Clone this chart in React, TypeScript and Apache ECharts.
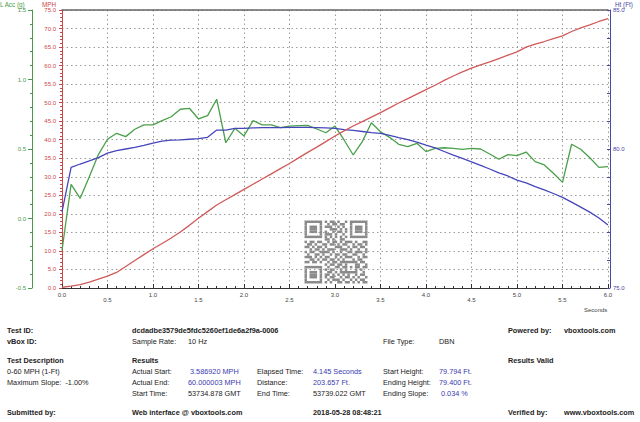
import React, { useEffect, useRef } from "react";
import * as echarts from "echarts";

// Sample times (10 Hz)
const times = [
  0.0, 0.1, 0.2, 0.3, 0.4, 0.5, 0.6, 0.7, 0.8, 0.9,
  1.0, 1.1, 1.2, 1.3, 1.4, 1.5, 1.6, 1.7, 1.8, 1.9,
  2.0, 2.1, 2.2, 2.3, 2.4, 2.5, 2.6, 2.7, 2.8, 2.9,
  3.0, 3.1, 3.2, 3.3, 3.4, 3.5, 3.6, 3.7, 3.8, 3.9,
  4.0, 4.1, 4.2, 4.3, 4.4, 4.5, 4.6, 4.7, 4.8, 4.9,
  5.0, 5.1, 5.2, 5.3, 5.4, 5.5, 5.6, 5.7, 5.8, 5.9, 6.0,
];

// Speed (MPH)
const speedMph = [
  0.2, 0.5, 0.9, 1.6, 2.4, 3.2, 4.2, 5.8, 7.4, 9.0,
  10.6, 12.0, 13.5, 15.1, 16.9, 18.8, 20.6, 22.4, 23.8, 25.2,
  26.6, 28.0, 29.4, 30.8, 32.2, 33.6, 35.1, 36.6, 38.0, 39.5,
  41.0, 42.4, 43.7, 44.9, 46.1, 47.3, 48.6, 49.9, 51.1, 52.3,
  53.5, 54.7, 56.0, 57.2, 58.3, 59.3, 60.2, 61.0, 61.9, 62.8,
  63.7, 65.0, 65.8, 66.5, 67.3, 68.0, 69.2, 70.2, 71.0, 71.9, 72.7,
];

// Longitudinal acceleration (g)
const accelG = [
  -0.23, 0.246, 0.145, 0.3, 0.46, 0.57, 0.613, 0.589, 0.642, 0.673,
  0.673, 0.704, 0.732, 0.786, 0.793, 0.716, 0.74, 0.858, 0.545, 0.649,
  0.594, 0.704, 0.673, 0.673, 0.653, 0.665, 0.668, 0.67, 0.644, 0.617,
  0.665, 0.565, 0.457, 0.553, 0.689, 0.624, 0.584, 0.534, 0.517, 0.541,
  0.481, 0.505, 0.509, 0.505, 0.498, 0.505, 0.5, 0.464, 0.426, 0.459,
  0.452, 0.478, 0.409, 0.385, 0.325, 0.26, 0.534, 0.498, 0.437, 0.368, 0.373,
];

// Height (Ft)
const heightFt = [
  77.74, 79.34, 79.46, 79.57, 79.69, 79.85, 79.94, 80.0, 80.06, 80.13,
  80.21, 80.28, 80.32, 80.33, 80.35, 80.37, 80.42, 80.68, 80.68, 80.74,
  80.74, 80.76, 80.77, 80.77, 80.77, 80.78, 80.78, 80.78, 80.77, 80.76,
  80.74, 80.7, 80.67, 80.63, 80.59, 80.56, 80.49, 80.41, 80.34, 80.25,
  80.14, 80.04, 79.91, 79.78, 79.66, 79.54, 79.41, 79.28, 79.14, 79.03,
  78.88, 78.78, 78.65, 78.53, 78.4, 78.26, 78.09, 77.91, 77.73, 77.52, 77.27,
];

// QR-style code pattern (decorative)
const qrRows = [
  "1111111010110100101111111",
  "1000001001011011001000001",
  "1011101011100101001011101",
  "1011101000111010101011101",
  "1011101010010110101011101",
  "1000001011101001001000001",
  "1111111010101010101111111",
  "0000000011010011000000000",
  "1011011001011010111010011",
  "0110100110110101100101101",
  "1101011010001110010110110",
  "0010110101110011101001001",
  "1011001111010010011011101",
  "0100110100101101100110010",
  "1110101011001010111001011",
  "0011010110110101000101100",
  "1101101001011011111110110",
  "0000000010110110100011001",
  "1111111001001101101011011",
  "1000001010110010100010100",
  "1011101001101011111110010",
  "1011101011010101010010110",
  "1011101010110010110101001",
  "1000001001011101001010110",
  "1111111010100110110101011",
];

const FONT = '"Liberation Sans", Arial, sans-serif';
const RED = "#c84848";
const GREEN = "#4a9a4a";
const BLUE = "#4848a8";
const GRID = "#9a9a9a";

function txt(x: number, y: number, text: string, opts: any = {}) {
  const bold = !!opts.bold;
  const size = opts.size || 7.3;
  return {
    type: "text",
    x,
    y,
    silent: true,
    style: {
      text,
      fill: opts.color || "#222",
      fontSize: size,
      fontWeight: bold ? "bold" : "normal",
      fontFamily: FONT,
      align: opts.align || "left",
      textAlign: opts.align || "left",
      verticalAlign: "middle",
      textVerticalAlign: "middle",
    },
  };
}

function buildQr(x0: number, y0: number, m: number) {
  const els: any[] = [
    {
      type: "rect",
      shape: { x: x0 - 1.5, y: y0 - 1.5, width: m * 25 + 3, height: m * 25 + 3 },
      style: { fill: "#fff" },
      silent: true,
    },
  ];
  qrRows.forEach((row, r) => {
    let c = 0;
    while (c < row.length) {
      if (row[c] === "1") {
        let e = c;
        while (e < row.length && row[e] === "1") e++;
        els.push({
          type: "rect",
          shape: { x: x0 + c * m, y: y0 + r * m, width: (e - c) * m, height: m },
          style: { fill: "#8a8a8a" },
          silent: true,
        });
        c = e;
      } else c++;
    }
  });
  return { type: "group", children: els };
}

export default function App() {
  const ref = useRef<HTMLDivElement>(null);

  useEffect(() => {
    if (!ref.current) return;
    const chart = echarts.init(ref.current, undefined, { renderer: "svg" });
    const pair = (arr: number[]) => times.map((t, i) => [t, arr[i]]);
    const BLUEV = "#3a3ab0";

    const graphic: any[] = [
      txt(0, 4, "L Acc (g)", { color: GREEN, size: 6.3 }),
      txt(42, 4, "MPH", { color: RED, size: 6.3 }),
      txt(615, 4, "Ht (Ft)", { color: BLUE, size: 6.3 }),
      txt(584, 310, "Seconds", { color: "#444", size: 6 }),
      buildQr(304.5, 220.5, 2.52),

      txt(7, 330, "Test ID:", { bold: true }),
      txt(7, 341, "vBox ID:", { bold: true }),
      txt(7, 360, "Test Description", { bold: true }),
      txt(7, 371, "0-60 MPH (1-Ft)"),
      txt(7, 382, "Maximum Slope:  -1.00%"),
      txt(7, 412, "Submitted by:", { bold: true }),

      txt(132, 330, "dcdadbe3579de5fdc5260ef1de6a2f9a-0006", { bold: true }),
      txt(132, 341, "Sample Rate:"),
      txt(188, 341, "10 Hz"),
      txt(132, 360, "Results", { bold: true }),
      txt(132, 371, "Actual Start:"),
      txt(190, 371, "3.586920 MPH", { color: BLUEV }),
      txt(132, 382, "Actual End:"),
      txt(188, 382, "60.000003 MPH", { color: BLUEV }),
      txt(132, 393, "Start Time:"),
      txt(188, 393, "53734.878 GMT"),
      txt(132, 412, "Web interface @ vboxtools.com", { bold: true }),

      txt(257, 371, "Elapsed Time:"),
      txt(313, 371, "4.145 Seconds", { color: BLUEV }),
      txt(257, 382, "Distance:"),
      txt(313, 382, "203.657 Ft.", { color: BLUEV }),
      txt(257, 393, "End Time:"),
      txt(313, 393, "53739.022 GMT"),
      txt(313, 412, "2018-05-28 08:48:21", { bold: true }),

      txt(383, 341, "File Type:"),
      txt(439, 341, "DBN"),
      txt(383, 371, "Start Height:"),
      txt(439, 371, "79.794 Ft.", { color: BLUEV }),
      txt(383, 382, "Ending Height:"),
      txt(439, 382, "79.400 Ft.", { color: BLUEV }),
      txt(383, 393, "Ending Slope:"),
      txt(441, 393, "0.034 %", { color: BLUEV }),

      txt(508, 330, "Powered by:", { bold: true }),
      txt(564, 330, "vboxtools.com", { bold: true }),
      txt(508, 360, "Results Valid", { bold: true }),
      txt(508, 412, "Verified by:", { bold: true }),
      txt(564, 412, "www.vboxtools.com", { bold: true }),
    ];

    const option: any = {
      animation: false,
      backgroundColor: "#ffffff",
      textStyle: { fontFamily: FONT },
      grid: { left: 62, right: 32, top: 10, bottom: 134, containLabel: false },
      xAxis: [
        {
          type: "value",
          min: 0,
          max: 6,
          interval: 0.5,
          position: "bottom",
          axisLine: { show: true, onZero: false, lineStyle: { color: "#333", width: 1 } },
          axisTick: { show: true, inside: true, length: 4, lineStyle: { color: "#333" } },
          minorTick: { show: true, splitNumber: 5, length: 2, lineStyle: { color: "#333" } },
          axisLabel: {
            margin: 4,
            fontSize: 6,
            color: "#444",
            formatter: (v: number) => {
              const s = v.toFixed(1);
              return Math.round(v * 2) % 2 === 0 ? `{a|${s}}` : `{b|${s}}`;
            },
            rich: {
              a: { fontSize: 6, color: "#444", fontFamily: FONT },
              b: { fontSize: 6, color: "#444", fontFamily: FONT, padding: [5, 0, 0, 0] },
            },
          },
          splitLine: { show: true, lineStyle: { color: GRID, type: [1.5, 3], width: 1 } },
        },
        {
          type: "value",
          min: 0,
          max: 6,
          position: "top",
          axisLine: { show: true, onZero: false, lineStyle: { color: "#666", width: 1.5 } },
          axisTick: { show: false },
          axisLabel: { show: false },
          splitLine: { show: false },
        },
      ],
      yAxis: [
        {
          type: "value",
          min: 0,
          max: 75,
          interval: 5,
          position: "left",
          offset: 0,
          axisLine: { show: true, onZero: false, lineStyle: { color: RED } },
          axisTick: { show: true, length: 3, lineStyle: { color: RED } },
          minorTick: { show: true, splitNumber: 5, length: 2, lineStyle: { color: RED } },
          axisLabel: { fontSize: 6, color: RED, margin: 6, formatter: (v: number) => v.toFixed(1) },
          splitLine: { show: true, lineStyle: { color: GRID, type: [1.5, 3], width: 1 } },
        },
        {
          type: "value",
          min: -0.5,
          max: 1.5,
          interval: 0.5,
          position: "left",
          offset: 30,
          axisLine: { show: true, onZero: false, lineStyle: { color: GREEN } },
          axisTick: { show: true, length: 4, lineStyle: { color: GREEN } },
          minorTick: { show: true, splitNumber: 5, length: 2, lineStyle: { color: GREEN } },
          axisLabel: { fontSize: 6, color: GREEN, margin: 6, formatter: (v: number) => v.toFixed(1) },
          splitLine: { show: false },
        },
        {
          type: "value",
          min: 75,
          max: 85,
          interval: 1,
          position: "right",
          offset: 2,
          axisLine: { show: true, onZero: false, lineStyle: { color: BLUE } },
          axisTick: { show: true, inside: true, length: 3, lineStyle: { color: BLUE } },
          axisLabel: {
            fontSize: 6,
            color: BLUE,
            margin: 3,
            formatter: (v: number) => (Math.round(v) % 5 === 0 ? v.toFixed(1) : ""),
          },
          splitLine: { show: false },
        },
      ],
      graphic,
      series: [
        {
          type: "line",
          name: "L Acc (g)",
          xAxisIndex: 0,
          yAxisIndex: 1,
          data: pair(accelG),
          showSymbol: false,
          symbol: "none",
          lineStyle: { color: "#4aa04a", width: 1.3 },
          z: 3,
        },
        {
          type: "line",
          name: "Ht (Ft)",
          xAxisIndex: 0,
          yAxisIndex: 2,
          data: pair(heightFt),
          showSymbol: false,
          symbol: "none",
          lineStyle: { color: "#4646bb", width: 1.3 },
          z: 4,
        },
        {
          type: "line",
          name: "MPH",
          xAxisIndex: 0,
          yAxisIndex: 0,
          data: pair(speedMph),
          showSymbol: false,
          symbol: "none",
          lineStyle: { color: "#d05a5a", width: 1.3 },
          z: 5,
        },
      ],
    };
    chart.setOption(option);
    return () => chart.dispose();
  }, []);

  return (
    <div
      ref={ref}
      style={{ position: "absolute", left: 0, top: 0, width: 640, height: 422, background: "#fff" }}
    />
  );
}
